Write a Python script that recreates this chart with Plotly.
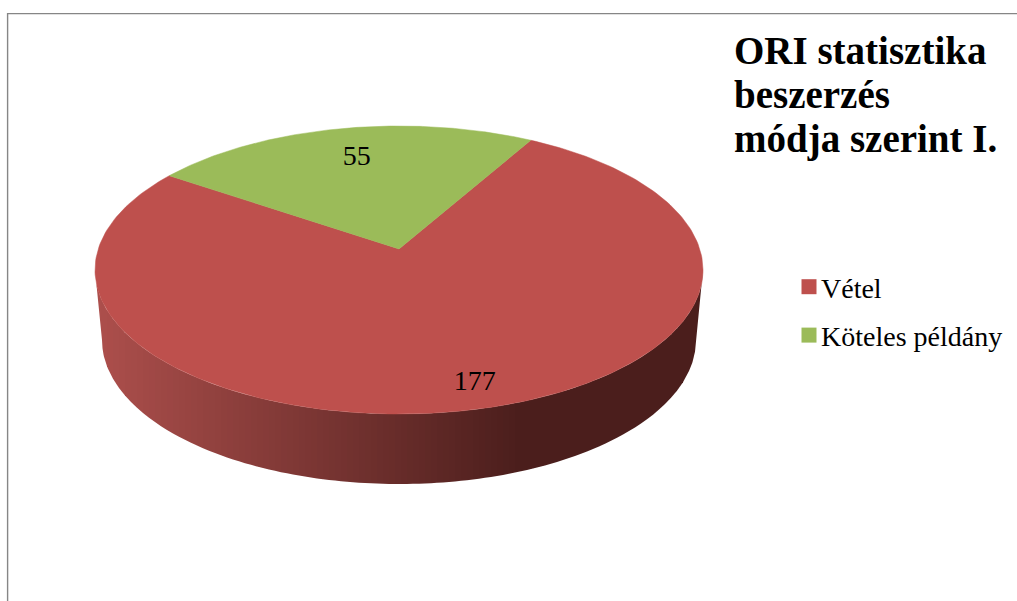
import numpy as np
import plotly.graph_objects as go

# Data
categories = ["Vétel", "Köteles példány"]
values = [177, 55]
colors = ["#BE504D", "#9BBB59"]
title_lines = ["ORI statisztika", "beszerzés", "módja szerint I."]

# Pie geometry (pixel-based axes)
FIRST_ANGLE = 29.6      # clockwise from north
CX, CY, RX, RY = 399, 270, 304, 144
BOT_CY, BOT_RX, BOT_RY = 340, 297, 144
PERSP = 0.146           # perspective shift of the hub
LABEL_R = [0.863, 0.73]
LABEL_NUDGE = [1.8, -0.8]
SERIF = "Liberation Serif"
BAND = 6
TITLE_X, TITLE_Y0, TITLE_STEP = 732, 50, 44.5

S = np.sqrt(1 - PERSP ** 2)


def project(theta_deg, r=1.0):
    t = np.radians(theta_deg)
    u0, v0 = r * np.cos(t), r * np.sin(t)
    w = 1 + PERSP * v0
    return CX + RX * u0 * S / w, CY - RY * (v0 + PERSP) / w


def lerp_hex(a, b, f):
    ca = [int(a[i:i + 2], 16) for i in (1, 3, 5)]
    cb = [int(b[i:i + 2], 16) for i in (1, 3, 5)]
    return "#%02x%02x%02x" % tuple(round(p + (q - p) * f) for p, q in zip(ca, cb))


def wall_top(x):
    return CY + RY * np.sqrt(np.clip(1 - ((x - CX) / RX) ** 2, 0, 1))


def wall_bottom(x):
    d = np.abs(x - CX)
    inner = BOT_CY + BOT_RY * np.sqrt(np.clip(1 - (d / BOT_RX) ** 2, 0, 1))
    outer = BOT_CY + (d - BOT_RX) / (RX - BOT_RX) * (CY - BOT_CY)
    return np.where(d <= BOT_RX, inner, outer)


total = sum(values)
fig = go.Figure()

# Side wall: vertical shaded bands along the front rim
edges = np.arange(CX - RX, CX + RX + BAND, BAND)
for x0, x1 in zip(edges[:-1], edges[1:]):
    xs = np.linspace(x0, min(x1, CX + RX), 13)
    f = min(1.0, max(0.0, ((x0 + x1) / 2 - 95) / 425))
    col = lerp_hex("#AD4F4C", "#4B1E1C", f)
    fig.add_trace(go.Scatter(
        x=list(xs) + list(xs[::-1]) + [xs[0]],
        y=list(wall_top(xs)) + list(wall_bottom(xs[::-1])) + [wall_top(xs[0])],
        mode="lines", fill="toself", fillcolor=col,
        line=dict(color=col, width=0), showlegend=False, hoverinfo="skip"))

# Top faces, from the values
start = 90 - FIRST_ANGLE
for name, val, col in zip(categories, values, colors):
    sweep = val / total * 360
    th = np.linspace(start, start - sweep, 241)
    px, py = project(th)
    hx, hy = project(0.0, 0.0)
    fig.add_trace(go.Scatter(
        x=[hx] + list(px) + [hx], y=[hy] + list(py) + [hy],
        mode="lines", fill="toself", fillcolor=col, line=dict(color=col, width=0.5),
        showlegend=False, name=name, hoverinfo="skip"))
    start -= sweep

# Value labels
start = 90 - FIRST_ANGLE
for val, lr, nudge in zip(values, LABEL_R, LABEL_NUDGE):
    sweep = val / total * 360
    lx, ly = project(start - sweep / 2 + nudge, lr)
    fig.add_trace(go.Scatter(
        x=[lx], y=[ly], mode="text", text=[str(val)], textposition="middle center",
        textfont=dict(family=SERIF, size=28, color="#000000"),
        showlegend=False, hoverinfo="skip"))
    start -= sweep

# Legend entries
for name, col in zip(categories, colors):
    fig.add_trace(go.Scatter(
        x=[None], y=[None], mode="markers", name=name, legendgroup=name,
        marker=dict(symbol="square", size=15, color=col)))

title_annotations = [
    dict(text="<b>%s</b>" % line, xref="x", yref="y",
         x=TITLE_X, y=TITLE_Y0 + i * TITLE_STEP,
         xanchor="left", yanchor="middle", showarrow=False,
         font=dict(family=SERIF, size=39, color="#000000"))
    for i, line in enumerate(title_lines)
]

fig.update_layout(
    width=1017, height=601,
    margin=dict(l=0, r=0, t=0, b=0),
    paper_bgcolor="#FFFFFF", plot_bgcolor="#FFFFFF",
    xaxis=dict(range=[0, 1017], visible=False, fixedrange=True),
    yaxis=dict(range=[601, 0], visible=False, fixedrange=True),
    annotations=title_annotations,
    legend=dict(
        x=781 / 1017, xanchor="left", y=1 - 262 / 601, yanchor="top",
        font=dict(family=SERIF, size=28, color="#000000"),
        tracegroupgap=9, bgcolor="rgba(0,0,0,0)", borderwidth=0),
    shapes=[
        dict(type="line", xref="x", yref="y", x0=7.6, x1=7.6, y0=13, y1=601,
             line=dict(color="#868686", width=1.4)),
        dict(type="line", xref="x", yref="y", x0=7, x1=1017, y0=13.6, y1=13.6,
             line=dict(color="#868686", width=1.4)),
    ],
)

post = """
document.body.style.margin='0';document.body.style.overflow='hidden';
var gd=document.getElementById('{plot_id}');
function nudgeLegend(){
  gd.querySelectorAll('.legendpoints').forEach(function(n){n.setAttribute('transform','translate(8,0)');});
}
setTimeout(nudgeLegend,0);
gd.on('plotly_afterplot',nudgeLegend);
"""
fig.write_html("out.html", config={"displayModeBar": False}, post_script=post)
